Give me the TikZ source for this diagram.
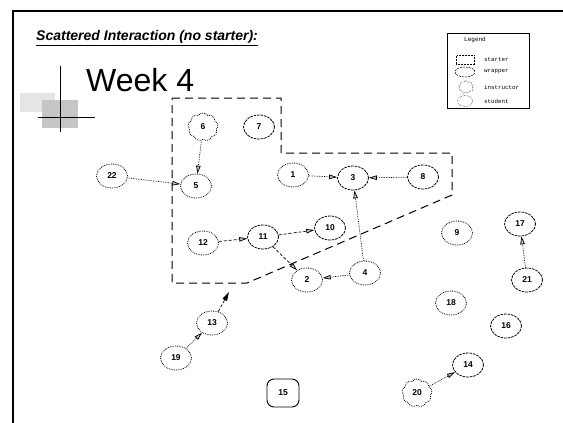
\documentclass[tikz,border=0pt]{standalone}
\usepackage{fontspec}
\setmainfont{Liberation Sans}
\newfontfamily\legfont{Liberation Mono}
\usetikzlibrary{shapes.symbols,shapes.geometric,arrows.meta}
\begin{document}
\begin{tikzpicture}[x=1pt,y=-1pt,
  lab/.style={font=\fontsize{8.5}{8.5}\selectfont\bfseries},
  stud/.style={ellipse,draw,densely dotted,line width=0.8pt,minimum width=31pt,minimum height=24pt,inner sep=0pt,lab},
  wrap/.style={ellipse,draw,dash pattern=on 2.5pt off 1pt,line width=0.8pt,minimum width=31pt,minimum height=24pt,inner sep=0pt,lab},
  instr/.style={cloud,draw,densely dotted,line width=0.8pt,cloud puffs=9,cloud puff arc=110,aspect=1,minimum width=30pt,minimum height=28pt,inner sep=0pt,lab},
  starter/.style={rectangle,rounded corners=7pt,draw,line width=0.9pt,minimum width=32pt,minimum height=28pt,inner sep=0pt,lab},
  link/.style={densely dotted,line width=0.7pt,-{Triangle[length=8pt,width=4.5pt,fill=gray!50]}},
  dlink/.style={dash pattern=on 3pt off 2pt,line width=0.7pt,-{Triangle[length=8pt,width=4.5pt,fill=gray!50]}},
  bound/.style={dash pattern=on 8pt off 5pt,line width=1pt},
  legtxt/.style={anchor=west,font=\legfont\fontsize{5.8}{5.8}\selectfont,inner sep=0pt}
]
\useasboundingbox (0,0) rectangle (563,423);
% frame
\draw[line width=1.8pt] (13,10) -- (13,423);
\draw[line width=1.5pt] (13,11) -- (563,11);
% title
\node[anchor=west,font=\fontsize{14}{14}\selectfont\bfseries\itshape,inner sep=0pt] (title) at (36,38) {\underline{Scattered Interaction (no starter):}};
\node[anchor=west,font=\fontsize{32}{32}\selectfont,inner sep=0pt] (week) at (86,80) {Week 4};
% cross decoration
\fill[gray!20] (20,93) rectangle (55,112);
\fill[gray!45] (42,100) rectangle (78,128);
\draw[line width=0.9pt] (60,66) -- (60,132);
\draw[line width=0.9pt] (38,117) -- (95,117);
% legend
\draw[line width=0.8pt] (447,33) rectangle (529,108);
\node[font=\legfont\fontsize{6}{6}\selectfont,inner sep=0pt] (legt) at (475,40) {Legend};
\node[draw,densely dotted,line width=0.5pt,minimum width=18pt,minimum height=9pt,inner sep=0pt] (ls) at (465,60) {};
\node[ellipse,draw,dash pattern=on 2pt off 1pt,line width=0.5pt,minimum width=20pt,minimum height=10pt,inner sep=0pt] (lw) at (465,72) {};
\node[cloud,draw,densely dotted,line width=0.5pt,cloud puffs=9,minimum width=15pt,minimum height=13pt,inner sep=0pt] (li) at (466,87) {};
\node[ellipse,draw,densely dotted,line width=0.5pt,minimum width=15pt,minimum height=11pt,inner sep=0pt] (lst) at (465,101) {};
\node[legtxt] (lst1) at (484,60) {starter};
\node[legtxt] (lst2) at (484,72) {wrapper};
\node[legtxt] (lst3) at (484,87) {instructor};
\node[legtxt] (lst4) at (484,101) {student};
% wrapper boundary
\draw[bound] (172,98) -- (281,98) -- (281,153) -- (452,153) -- (452,195) -- (247,283) -- (172,283) -- cycle;
% nodes
\node[instr] (n6) at (203,127) {6};
\node[wrap] (n7) at (259,127) {7};
\node[stud] (n22) at (112,176) {22};
\node[stud] (n5) at (196,186) {5};
\node[stud] (n1) at (293,175) {1};
\node[wrap] (n3) at (353,178) {3};
\node[wrap] (n8) at (423,177) {8};
\node[wrap] (n10) at (330,228) {10};
\node[wrap] (n11) at (263,237) {11};
\node[stud] (n12) at (203,243) {12};
\node[stud] (n2) at (307,280) {2};
\node[stud] (n4) at (365,273) {4};
\node[stud] (n9) at (457,233) {9};
\node[wrap] (n17) at (520,224) {17};
\node[wrap] (n21) at (527,280) {21};
\node[stud] (n18) at (451,303) {18};
\node[wrap] (n16) at (506,326) {16};
\node[stud] (n13) at (212,323) {13};
\node[stud] (n19) at (176,358) {19};
\node[starter] (n15) at (283,393) {15};
\node[wrap] (n14) at (468,365) {14};
\node[instr] (n20) at (417,393) {20};
\coordinate (b13) at (229,292);
% edges
\draw[link] (n6) -- (n5);
\draw[link] (n22) -- (n5);
\draw[link] (n1) -- (n3);
\draw[link] (n8) -- (n3);
\draw[link] (n4) -- (n3);
\draw[dlink] (n12) -- (n11);
\draw[dlink] (n11) -- (n10);
\draw[dlink] (n11) -- (n2);
\draw[link] (n4) -- (n2);
\draw[link] (n21) -- (n17);
\draw[link] (n19) -- (n13);
\draw[dash pattern=on 3pt off 2pt,line width=0.7pt,-{Triangle[length=9pt,width=5pt]}] (n13) -- (b13);
\draw[link] (n20) -- (n14);
\end{tikzpicture}
\end{document}
